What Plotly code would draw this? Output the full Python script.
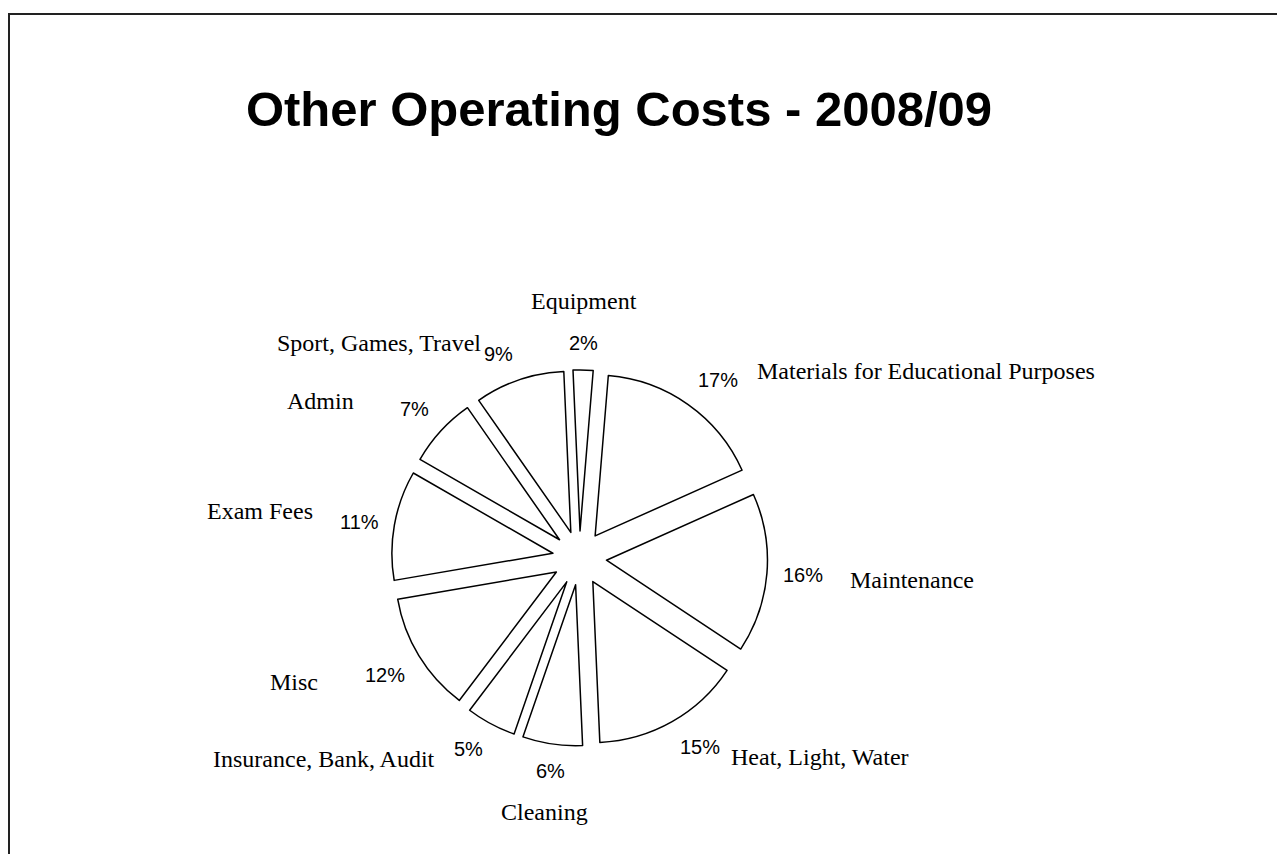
import math
import plotly.graph_objects as go

categories = ["Equipment", "Materials for Educational Purposes", "Maintenance",
              "Heat, Light, Water", "Cleaning", "Insurance, Bank, Audit", "Misc",
              "Exam Fees", "Admin", "Sport, Games, Travel"]
shares = [2, 17, 16, 15, 6, 5, 12, 11, 7, 9]

W, H = 1269, 846
cx, cy = 571.5, 550.0          # pie centre in figure pixels
r_pie = 161.0
pull = 0.168
rotation = -2.5
pct_r = 203.0                  # guide radius for percentage labels
name_corner = (305.0, 212.0)   # guide ellipse for corner-anchored category labels
name_side = 270.0              # guide radius for side (middle-anchored) labels
name_pole = 243.0              # guide radius for top/bottom (centre-anchored) labels

SANS = "Liberation Sans, Arial, sans-serif"
SERIF = "Liberation Serif, Times New Roman, serif"

fig = go.Figure()

fig.add_trace(go.Pie(
    labels=categories, values=shares, sort=False, direction="clockwise",
    rotation=rotation, pull=pull,
    marker=dict(colors=["white"] * len(shares), line=dict(color="black", width=1.5)),
    textinfo="none",
    domain=dict(x=[(cx - r_pie * (1 + pull)) / W, (cx + r_pie * (1 + pull)) / W],
                y=[1 - (cy + r_pie * (1 + pull)) / H, 1 - (cy - r_pie * (1 + pull)) / H]),
    showlegend=False, hoverinfo="label+percent",
))

# labels placed from each slice's mid angle (nearest text corner on a guide curve)
total = sum(shares)
annotations = []
cum = 0.0
for name, v in zip(categories, shares):
    mid = math.radians(rotation + 360.0 * (cum + v / 2) / total)
    cum += v
    s, c = math.sin(mid), -math.cos(mid)
    xa = "left" if s > 0.3 else ("right" if s < -0.3 else "center")
    ya = "bottom" if c < -0.3 else ("top" if c > 0.3 else "middle")
    if xa == "center":
        nrx = nry = name_pole
    elif ya == "middle":
        nrx = nry = name_side
    else:
        nrx, nry = name_corner
    pct = f"{round(100 * v / total)}%"
    for text, rx, ry, font in ((pct, pct_r, pct_r, dict(family=SANS, size=20, color="black")),
                               (name, nrx, nry, dict(family=SERIF, size=24, color="black"))):
        annotations.append(dict(
            text=text, showarrow=False, xref="paper", yref="paper",
            x=(cx + rx * s) / W, y=1 - (cy + ry * c) / H,
            xanchor=xa, yanchor=ya, font=font, borderpad=0,
        ))

fig.update_layout(
    width=W, height=H,
    margin=dict(l=0, r=0, t=0, b=0),
    paper_bgcolor="white", plot_bgcolor="white",
    title=dict(text="Other Operating Costs - 2008/09",
               x=611 / W, xanchor="center", y=1 - 101 / H, yanchor="middle",
               font=dict(family=SANS, size=49, color="black", weight="bold")),
    annotations=annotations,
    shapes=[
        dict(type="line", xref="paper", yref="paper", x0=0, x1=1.02,
             y0=1 - 6 / H, y1=1 - 6 / H, line=dict(color="#222222", width=2)),
        dict(type="line", xref="paper", yref="paper", x0=1 / W, x1=1 / W,
             y0=-0.02, y1=1 - 6 / H, line=dict(color="#222222", width=2)),
    ],
)

fig.write_html("out.html")
